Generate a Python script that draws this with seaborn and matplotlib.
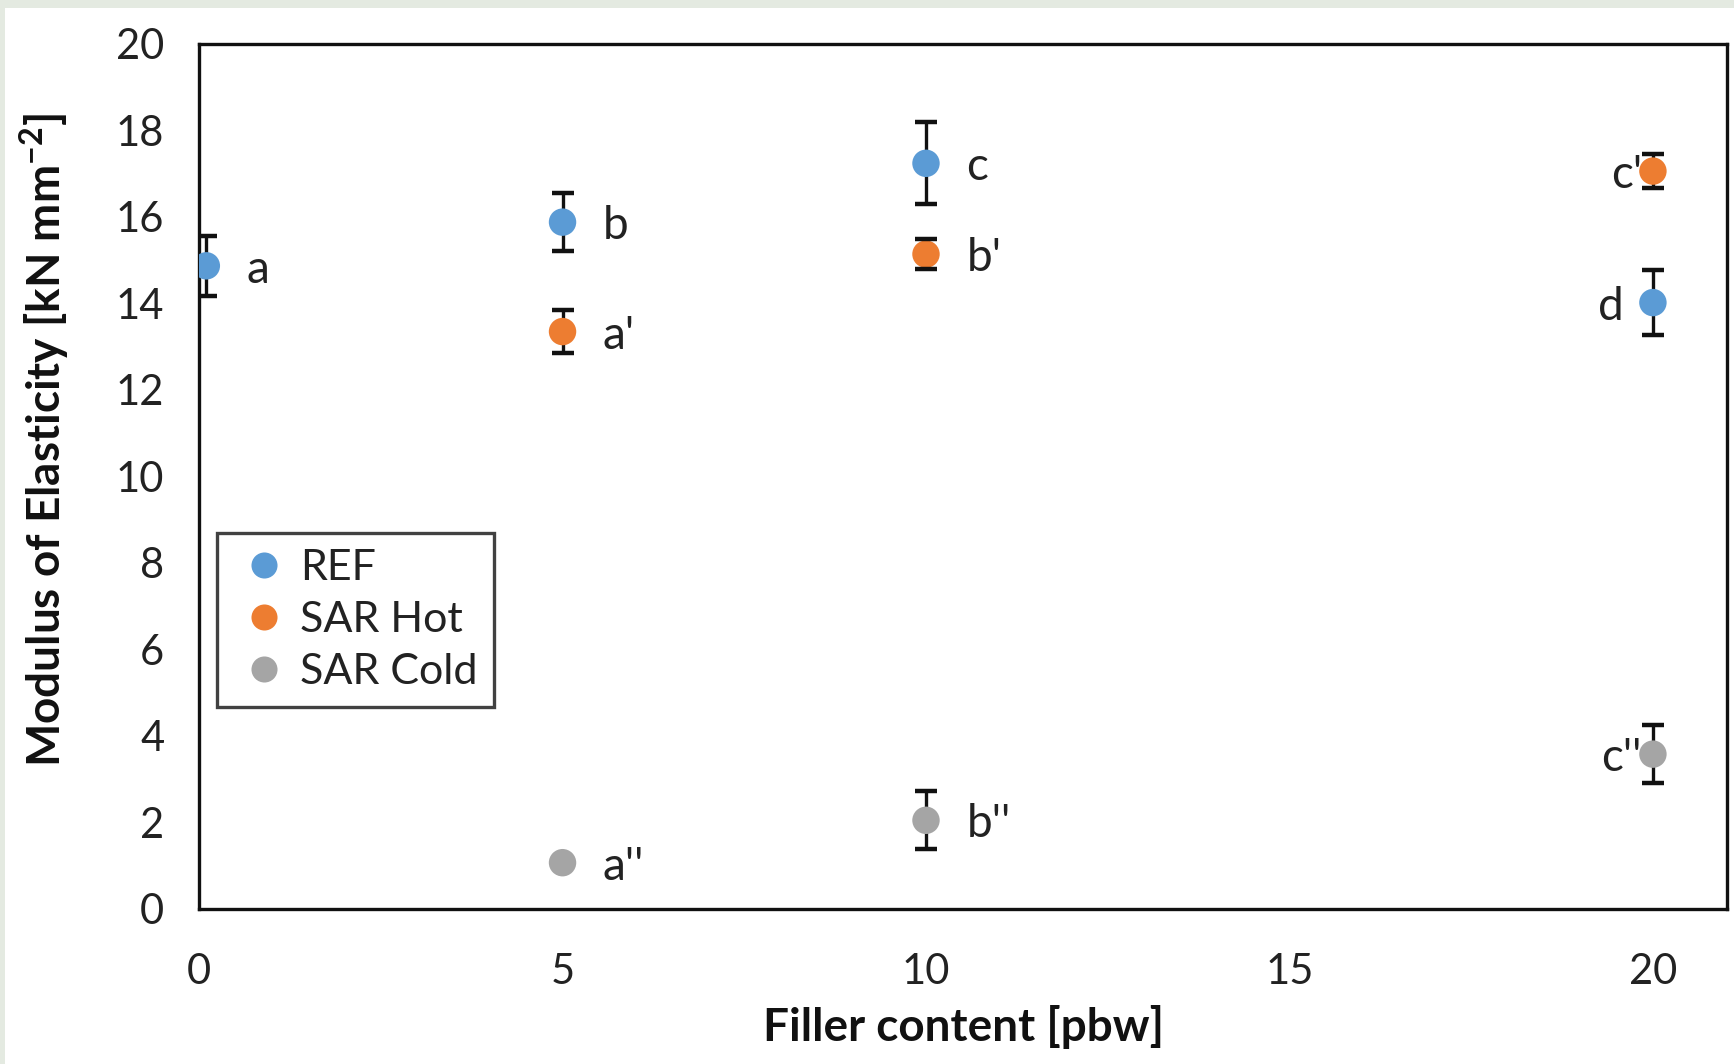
import matplotlib
matplotlib.use("Agg")
import matplotlib.pyplot as plt
import seaborn as sns
import pandas as pd
from matplotlib.patches import Rectangle

# Modulus of elasticity vs filler content, three series with error bars
series_names = ["REF", "SAR Hot", "SAR Cold"]

ref_x = [0.1, 5, 10, 20]
ref_y = [14.87, 15.88, 17.24, 14.02]
ref_err = [0.70, 0.67, 0.95, 0.75]
ref_labels = ["a", "b", "c", "d"]

hot_x = [5, 10, 20]
hot_y = [13.35, 15.14, 17.06]
hot_err = [0.50, 0.35, 0.40]
hot_labels = ["a'", "b'", "c'"]

cold_x = [5, 10, 20]
cold_y = [1.07, 2.05, 3.58]
cold_err = [0.0, 0.67, 0.67]
cold_labels = ["a''", "b''", "c''"]

x_ticks = [0, 5, 10, 15, 20]
y_ticks = list(range(0, 21, 2))

palette = {"REF": "#5b9bd5", "SAR Hot": "#ed7d31", "SAR Cold": "#a5a5a5"}

# horizontal text offset (points) for each point label
label_dx = {"a": 29, "b": 29, "c": 29, "d": -21,
            "a'": 29, "b'": 29, "c'": -8,
            "a''": 29, "b''": 29, "c''": -8}

df = pd.concat([
    pd.DataFrame({"x": ref_x, "y": ref_y, "err": ref_err, "lab": ref_labels,
                  "series": "REF"}),
    pd.DataFrame({"x": hot_x, "y": hot_y, "err": hot_err, "lab": hot_labels,
                  "series": "SAR Hot"}),
    pd.DataFrame({"x": cold_x, "y": cold_y, "err": cold_err, "lab": cold_labels,
                  "series": "SAR Cold"}),
], ignore_index=True)

sns.set_theme(style="white")
plt.rcParams["font.family"] = ["Lato", "DejaVu Sans"]

fig = plt.figure(figsize=(17.34, 10.64), dpi=100)
fig.patch.set_facecolor("#e4eae1")
fig.patches.append(Rectangle((5 / 1734, 0), 1, 1 - 8 / 1064,
                             transform=fig.transFigure, facecolor="white",
                             edgecolor="none", zorder=-10))

ax = fig.add_axes([0.1148, 0.1457, 0.8812, 0.813])
ax.set_facecolor("white")

# error bars: stems under the markers, caps on top
for name in series_names:
    sub = df[(df["series"] == name) & (df["err"] > 0)]
    _, caps, bars = ax.errorbar(sub["x"], sub["y"], yerr=sub["err"], fmt="none",
                                ecolor="#111111", elinewidth=2.4, capsize=8,
                                capthick=3.2, zorder=2)
    for c in caps:
        c.set_zorder(4)

sns.scatterplot(data=df, x="x", y="y", hue="series", palette=palette,
                hue_order=series_names, s=390, linewidth=0, ax=ax, zorder=3,
                legend=True)

for _, r in df.iterrows():
    dx = label_dx[r["lab"]]
    ax.annotate(r["lab"], (r["x"], r["y"]), xytext=(dx, -3),
                textcoords="offset points",
                ha="left" if dx > 0 else "right", va="center",
                fontsize=33, color="#222222")

ax.set_xlim(0, 21.02)
ax.set_ylim(0, 20)
ax.set_xticks(x_ticks)
ax.set_yticks(y_ticks)
ax.tick_params(axis="both", direction="out", width=2,
               color="#222222", labelsize=30, labelcolor="#222222")
ax.tick_params(axis="x", length=10, pad=22)
ax.tick_params(axis="y", length=8, pad=17)

for sp in ax.spines.values():
    sp.set_visible(True)
    sp.set_color("#111111")
    sp.set_linewidth(2.4)

ax.set_xlabel("Filler content [pbw]", fontsize=33, fontweight="bold",
              color="#111111", labelpad=10)
ax.set_ylabel("Modulus of Elasticity [kN mm$^{\\mathregular{-2}}$]", fontsize=33,
              fontweight="bold", color="#111111")
ax.yaxis.set_label_coords(-0.083, 0.542)

leg = ax.legend(loc="upper left", bbox_to_anchor=(0.012, 0.435), fontsize=31,
                frameon=True, fancybox=False, borderpad=0.38, handletextpad=0.12,
                labelspacing=0.32, handlelength=1.42, borderaxespad=0,
                markerscale=0.95)
leg.get_frame().set_edgecolor("#111111")
leg.get_frame().set_linewidth(2.4)
for t in leg.get_texts():
    t.set_color("#222222")

fig.savefig("out.png", dpi=100, facecolor=fig.get_facecolor())
